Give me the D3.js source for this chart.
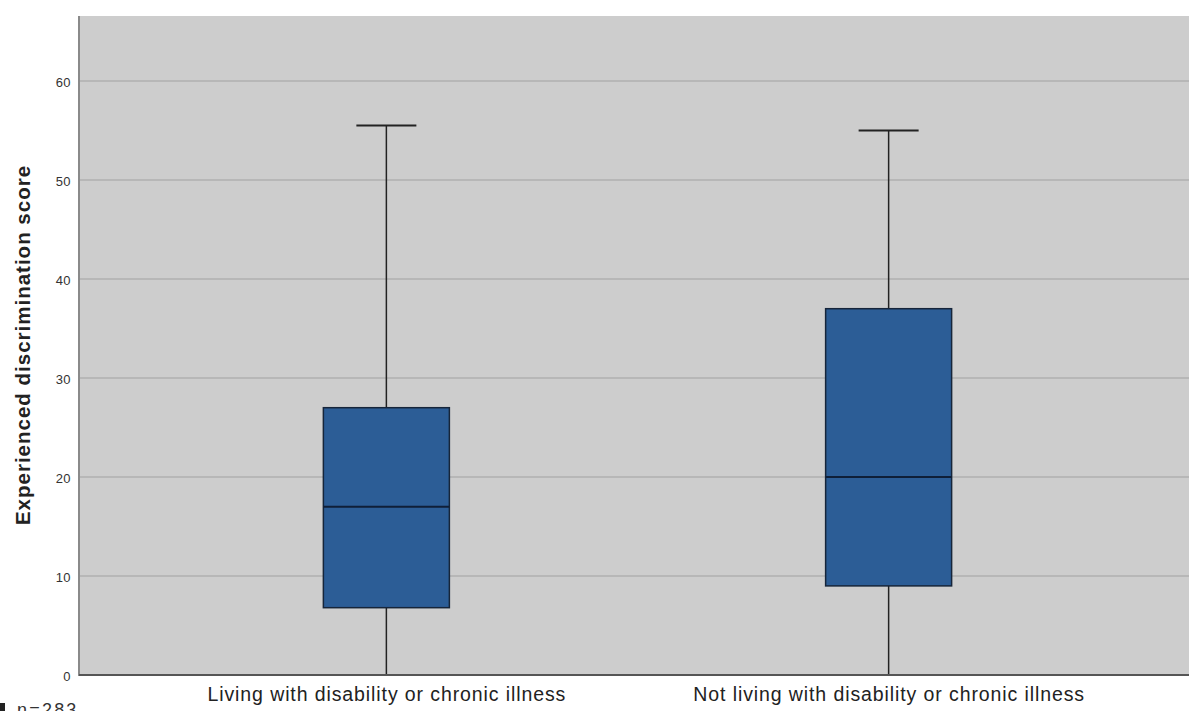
<!DOCTYPE html>
<html><head><meta charset="utf-8">
<script src="https://cdn.jsdelivr.net/npm/d3@7"></script>
<style>html,body{margin:0;padding:0;background:#fff;overflow:hidden}svg{display:block}</style>
</head><body>
<svg id="c" width="1189" height="711"></svg>
<script>
const categories = ["Living with disability or chronic illness", "Not living with disability or chronic illness"];
const whiskerLow = [0, 0];
const q1 = [6.8, 9];
const median = [17, 20];
const q3 = [27, 37];
const whiskerHigh = [55.5, 55];
const yTicks = [0, 10, 20, 30, 40, 50, 60];
const yTitle = "Experienced discrimination score";
const note = "n=283";

const svg = d3.select("#c");
const L = 80, R = 1195, T = 16, B = 675;
const y = d3.scaleLinear().domain([0, 60]).range([B, 81]);
const x = d3.scalePoint().domain(categories).range([L, R]).padding(0.61);
const FONT = "Arial, Liberation Sans, sans-serif";

svg.append("rect").attr("x", L).attr("y", T).attr("width", 1189 - L).attr("height", B - T).attr("fill", "#cdcdcd");

// grid
svg.append("g").selectAll("line").data(yTicks.filter(d => d > 0)).join("line")
  .attr("x1", L).attr("x2", 1189).attr("y1", d => y(d)).attr("y2", d => y(d))
  .attr("stroke", "#b7b7b7").attr("stroke-width", 2);

// y axis
const ya = svg.append("g").attr("transform", `translate(${L},0)`)
  .call(d3.axisLeft(y).tickValues(yTicks).tickSize(0).tickPadding(9));
ya.select(".domain").remove();
ya.selectAll("text").attr("font-family", FONT).attr("font-size", 13).attr("letter-spacing", 0.4)
  .style("fill", "#333").attr("dy", "0.4em");
svg.append("line").attr("x1", L - 1).attr("x2", L - 1).attr("y1", T).attr("y2", B + 1).attr("stroke", "#8a8a8a").attr("stroke-width", 2);

// x axis
const xa = svg.append("g").attr("transform", `translate(0,${B})`)
  .call(d3.axisBottom(x).tickSize(0).tickPadding(8));
xa.select(".domain").remove();
xa.selectAll("text").attr("font-family", FONT).attr("font-size", 19.5).attr("letter-spacing", 0.9)
  .style("fill", "#222").attr("dy", "0.9em");

const capW = 60, boxW = 126;
const g = svg.append("g");
categories.forEach((c, i) => {
  const cx = x(c);
  g.append("line").attr("x1", cx).attr("x2", cx).attr("y1", y(whiskerHigh[i])).attr("y2", y(q3[i])).attr("stroke", "#222").attr("stroke-width", 1.5);
  g.append("line").attr("x1", cx).attr("x2", cx).attr("y1", y(q1[i])).attr("y2", y(whiskerLow[i])).attr("stroke", "#222").attr("stroke-width", 1.5);
  g.append("line").attr("x1", cx - capW / 2).attr("x2", cx + capW / 2).attr("y1", y(whiskerHigh[i])).attr("y2", y(whiskerHigh[i])).attr("stroke", "#222").attr("stroke-width", 2);
  g.append("line").attr("x1", cx - capW / 2).attr("x2", cx + capW / 2).attr("y1", y(whiskerLow[i])).attr("y2", y(whiskerLow[i])).attr("stroke", "#222").attr("stroke-width", 2);
  g.append("rect").attr("x", cx - boxW / 2).attr("width", boxW).attr("y", y(q3[i])).attr("height", y(q1[i]) - y(q3[i]))
    .attr("fill", "#2c5d96").attr("stroke", "#16253a").attr("stroke-width", 1.5);
  g.append("line").attr("x1", cx - boxW / 2).attr("x2", cx + boxW / 2).attr("y1", y(median[i])).attr("y2", y(median[i])).attr("stroke", "#0f1f38").attr("stroke-width", 2);
});

// bottom axis line
svg.append("line").attr("x1", L - 1).attr("x2", 1189).attr("y1", B).attr("y2", B).attr("stroke", "#555").attr("stroke-width", 2);

svg.append("text").attr("transform", `translate(30,345) rotate(-90)`)
  .attr("text-anchor", "middle").attr("font-family", FONT).attr("font-weight", "bold").attr("font-size", 20.5)
  .attr("letter-spacing", 1.0).attr("fill", "#222").text(yTitle);

svg.append("rect").attr("x", 0).attr("y", 703).attr("width", 5).attr("height", 8).attr("fill", "#222");
svg.append("text").attr("x", 17).attr("y", 716).attr("font-family", FONT).attr("font-size", 18).attr("letter-spacing", 2.2).attr("fill", "#333").text(note);
</script>
</body></html>
